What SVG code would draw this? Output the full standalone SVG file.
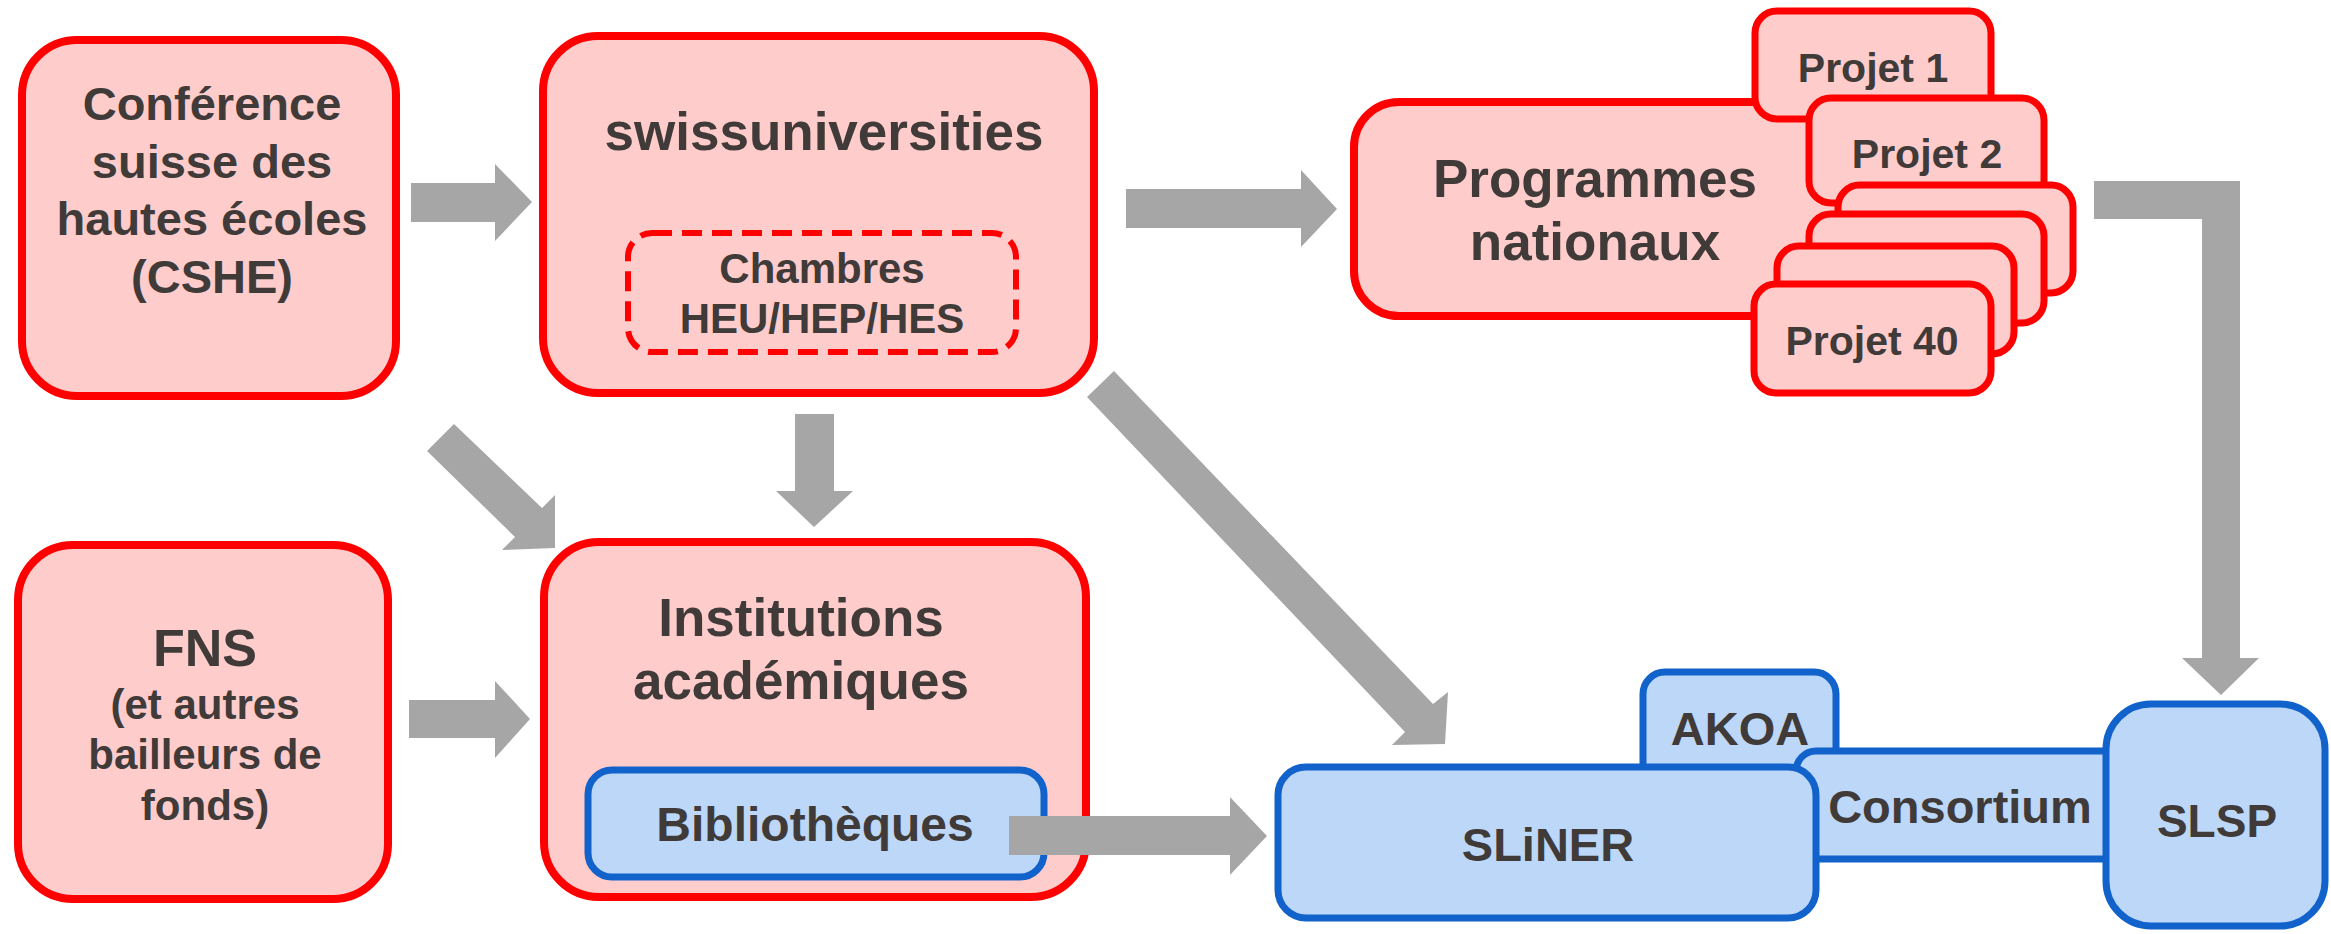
<svg xmlns="http://www.w3.org/2000/svg" width="2331" height="934" viewBox="0 0 2331 934">
<style>
.r{fill:#ffcccc;stroke:#ff0000;stroke-width:8}
.p{fill:#ffcccc;stroke:#ff0000;stroke-width:7}
.d{fill:none;stroke:#ff0000;stroke-width:6;stroke-dasharray:20 10}
.b{fill:#bdd7f8;stroke:#1262cc;stroke-width:7}
.a{fill:#a6a6a6}
text{font-family:"Liberation Sans",Arial,sans-serif;font-weight:bold;fill:#403b39;text-anchor:middle}
</style>
<rect width="2331" height="934" fill="#ffffff"/>
<g id="cshe">
<rect class="r" x="22" y="40" width="374" height="356" rx="55"/>
<text font-size="47"><tspan x="212" y="120">Conférence</tspan><tspan x="212" y="178">suisse des</tspan><tspan x="212" y="235">hautes écoles</tspan><tspan x="212" y="293">(CSHE)</tspan></text>
</g>
<g id="swissuniversities">
<rect class="r" x="543" y="36" width="551" height="357" rx="55"/>
<text font-size="53" x="824" y="150">swissuniversities</text>
</g>
<g id="chambres">
<rect class="d" x="628" y="233" width="388" height="119" rx="24"/>
<text font-size="42"><tspan x="822" y="283">Chambres</tspan><tspan x="822" y="333">HEU/HEP/HES</tspan></text>
</g>
<g id="programmes">
<rect class="r" x="1354" y="102" width="500" height="214" rx="45"/>
<text font-size="53"><tspan x="1595" y="197">Programmes</tspan><tspan x="1595" y="260">nationaux</tspan></text>
</g>
<g id="projet1">
<rect class="p" x="1755" y="11" width="236" height="108" rx="22"/>
<text font-size="41" x="1873" y="82">Projet 1</text>
</g>
<g id="projet2">
<rect class="p" x="1809" y="98" width="235" height="105" rx="22"/>
<text font-size="41" x="1927" y="168">Projet 2</text>
</g>
<g id="projet-a"><rect class="p" x="1838" y="185" width="235" height="108" rx="22"/></g>
<g id="projet-b"><rect class="p" x="1809" y="214" width="235" height="109" rx="22"/></g>
<g id="projet-c"><rect class="p" x="1777" y="246" width="237" height="108" rx="22"/></g>
<g id="projet40">
<rect class="p" x="1754" y="284" width="237" height="109" rx="22"/>
<text font-size="41" x="1872" y="355">Projet 40</text>
</g>
<g id="fns">
<rect class="r" x="18" y="545" width="370" height="354" rx="55"/>
<text font-size="52" x="205" y="666">FNS</text>
<text font-size="42"><tspan x="205" y="719">(et autres</tspan><tspan x="205" y="769">bailleurs de</tspan><tspan x="205" y="820">fonds)</tspan></text>
</g>
<g id="institutions">
<rect class="r" x="544" y="542" width="542" height="355" rx="55"/>
<text font-size="53"><tspan x="801" y="636">Institutions</tspan><tspan x="801" y="699">académiques</tspan></text>
</g>
<g id="bibliotheques">
<rect class="b" x="588" y="770" width="456" height="107" rx="24"/>
<text font-size="48" x="815" y="841">Bibliothèques</text>
</g>
<g id="akoa">
<rect class="b" x="1643" y="672" width="193" height="120" rx="22"/>
<text font-size="47" x="1740" y="745">AKOA</text>
</g>
<g id="consortium">
<rect class="b" x="1796" y="751" width="354" height="108" rx="20"/>
<text font-size="47" x="1960" y="823">Consortium</text>
</g>
<g id="sliner">
<rect class="b" x="1278" y="767" width="538" height="151" rx="28"/>
<text font-size="47" x="1548" y="861">SLiNER</text>
</g>
<g id="slsp">
<rect class="b" x="2106" y="704" width="219" height="222" rx="45"/>
<text font-size="46" x="2217" y="837">SLSP</text>
</g>
<g id="connectors">
<polygon class="a" points="411,183 495,183 495,164 532,202 495,241 495,222 411,222"/>
<polygon class="a" points="1126,189 1301,189 1301,170 1337,209 1301,247 1301,228 1126,228"/>
<polygon class="a" points="409,700 495,700 495,681 530,719 495,758 495,738 409,738"/>
<polygon class="a" points="795,414 834,414 834,491 853,491 814,527 776,491 795,491"/>
<polygon class="a" points="427,451 454,424 542,508 555,495 555,548 502,550 515,537"/>
<polygon class="a" points="1087,397 1114,371 1433,704 1448,692 1445,744 1392,745 1405,732"/>
<polygon class="a" points="1009,816 1230,816 1230,797 1267,836 1230,875 1230,855 1009,855"/>
<polygon class="a" points="2094,181 2240,181 2240,658 2259,658 2221,695 2182,658 2202,658 2202,219 2094,219"/>
</g>
</svg>
